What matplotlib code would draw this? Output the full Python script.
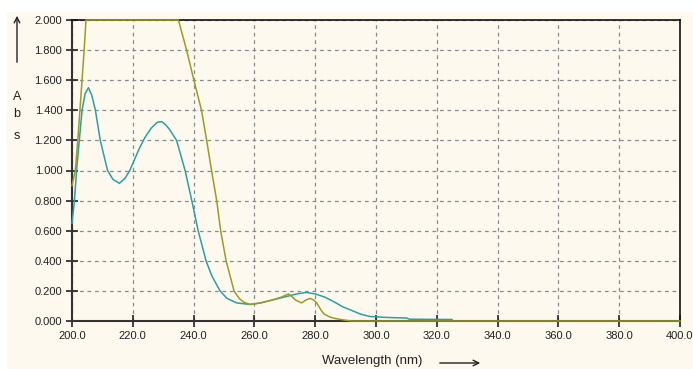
import numpy as np
import matplotlib
matplotlib.use('Agg')
import matplotlib.pyplot as plt
from matplotlib.patches import Rectangle

# teal trace
wl_a = [200, 200.8, 201.5, 202.4, 203.3, 204.3, 205.4, 206.5, 207.7, 209.3, 211.7, 213.5,
        215.6, 217.5, 219, 220.5, 222, 224, 226, 228, 229.5, 231, 232.2, 234.4, 237.2, 239.4,
        241.5, 244.1, 246, 248.7, 251, 254.2, 258.6, 262, 266, 270, 274, 277, 280, 283, 286,
        289, 292, 295, 298, 302, 306, 310, 311, 318, 325]
abs_a = [0.65, 0.80, 1.00, 1.20, 1.40, 1.51, 1.55, 1.50, 1.40, 1.20, 1.00, 0.94, 0.915,
         0.95, 1.00, 1.07, 1.14, 1.22, 1.28, 1.32, 1.325, 1.30, 1.27, 1.20, 1.00, 0.80, 0.60,
         0.40, 0.30, 0.20, 0.15, 0.12, 0.11, 0.12, 0.14, 0.16, 0.18, 0.19, 0.18, 0.16, 0.13,
         0.095, 0.07, 0.045, 0.03, 0.025, 0.022, 0.02, 0.012, 0.011, 0.01]

# olive trace
wl_b = [200, 201.1, 201.9, 202.6, 203.3, 204.0, 204.6, 235, 237.7, 240.1, 242.6, 244.3,
        245.9, 247.6, 248.9, 250.7, 253.3, 255, 256.5, 258.6, 262, 266, 269, 271.2, 272.5,
        273.5, 275.5, 277, 278.3, 279.5, 280.5, 282, 283, 285, 287, 290, 292, 400]
abs_b = [0.90, 1.00, 1.20, 1.40, 1.60, 1.80, 2.0, 2.0, 1.80, 1.60, 1.40, 1.20, 1.00, 0.80,
         0.60, 0.40, 0.20, 0.15, 0.125, 0.11, 0.12, 0.14, 0.16, 0.18, 0.16, 0.14, 0.12, 0.14,
         0.15, 0.14, 0.12, 0.07, 0.045, 0.025, 0.015, 0.005, 0.0, 0.0]

x_ticks = np.arange(200, 401, 20)
y_ticks = np.arange(0, 2.001, 0.2)

bg = '#FDF9EF'
fig = plt.figure(figsize=(6.93, 3.69), dpi=100)
fig.patch.set_facecolor('white')
fig.add_artist(Rectangle((7 / 693, 0), 1, 357 / 369, transform=fig.transFigure,
                         facecolor=bg, edgecolor='none', zorder=0))

ax = fig.add_axes([72 / 693, 48 / 369, 608 / 693, 301 / 369])
ax.set_facecolor(bg)

ax.plot(wl_a, abs_a, color='#2C9FA3', lw=1.1, zorder=4, clip_on=False)
ax.plot(wl_b, abs_b, color='#9E9C1E', lw=1.1, zorder=5, clip_on=False)

ax.set_xlim(200, 400)
ax.set_ylim(0, 2.0)
ax.set_xticks(x_ticks)
ax.set_xticklabels([f'{v:.1f}' for v in x_ticks])
ax.set_yticks(y_ticks)
ax.set_yticklabels([f'{v:.3f}' for v in y_ticks])
ax.tick_params(direction='inout', length=8, width=1.2, color='#222222',
               labelsize=8, pad=3, labelcolor='#222222')
ax.grid(True, color='#8a8a8a', linestyle=(0, (3, 3)), linewidth=0.9)

for side in ['left', 'bottom']:
    ax.spines[side].set_linewidth(1.5)
    ax.spines[side].set_color('#333333')
for side in ['top', 'right']:
    ax.spines[side].set_linewidth(1.2)
    ax.spines[side].set_color('#111111')

for lab in ax.get_xticklabels() + ax.get_yticklabels():
    lab.set_family('Liberation Sans')

# y label: arrow and stacked letters
ax.annotate('', xy=(17, 356), xytext=(17, 304), xycoords='figure pixels',
            textcoords='figure pixels',
            arrowprops=dict(arrowstyle='->', color='#222222', lw=1.0))
for letter, ypx in [('A', 97), ('b', 114), ('s', 136)]:
    fig.text(17 / 693, 1 - ypx / 369, letter, ha='center', va='center',
             fontsize=9, family='Liberation Sans', color='#222222')

# x label with arrow
fig.text(372 / 693, 1 - 361 / 369, 'Wavelength (nm)', ha='center', va='center',
         fontsize=9.5, family='Liberation Sans', color='#222222')
ax.annotate('', xy=(483, 6), xytext=(437, 6), xycoords='figure pixels',
            textcoords='figure pixels',
            arrowprops=dict(arrowstyle='->', color='#222222', lw=1.0))

fig.savefig('out.png', dpi=100, facecolor=fig.get_facecolor())
